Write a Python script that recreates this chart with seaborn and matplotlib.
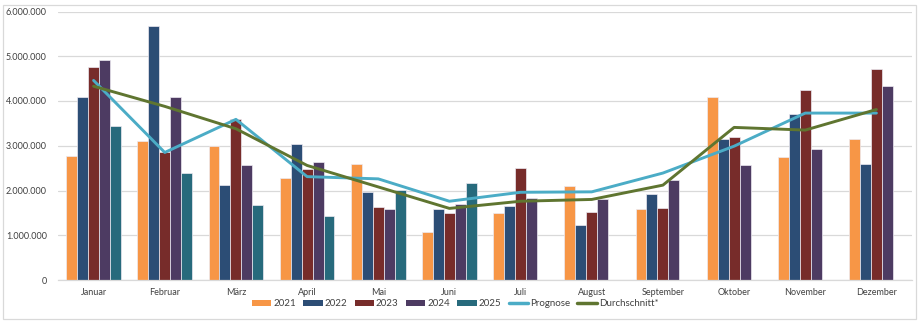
import numpy as np
import pandas as pd
import matplotlib
matplotlib.use("Agg")
import matplotlib.pyplot as plt
from matplotlib.patches import Patch, Rectangle
from matplotlib.lines import Line2D
from matplotlib.ticker import FuncFormatter, MultipleLocator
import seaborn as sns

months = ["Januar", "Februar", "März", "April", "Mai", "Juni", "Juli",
          "August", "September", "Oktober", "November", "Dezember"]
years = ["2021", "2022", "2023", "2024", "2025"]

v2021 = [2770000, 3110000, 3000000, 2270000, 2590000, 1080000, 1500000, 2100000, 1590000, 4090000, 2740000, 3140000]
v2022 = [4100000, 5680000, 2130000, 3050000, 1960000, 1580000, 1660000, 1240000, 1920000, 3160000, 3700000, 2590000]
v2023 = [4760000, 2850000, 3590000, 2490000, 1630000, 1490000, 2500000, 1530000, 1610000, 3190000, 4240000, 4710000]
v2024 = [4920000, 4090000, 2560000, 2640000, 1580000, 1700000, 1840000, 1800000, 2230000, 2580000, 2920000, 4330000]
v2025 = [3450000, 2390000, 1680000, 1430000, 2020000, 2170000, np.nan, np.nan, np.nan, np.nan, np.nan, np.nan]
prognose = [4460000, 2850000, 3590000, 2310000, 2260000, 1760000, 1960000, 1970000, 2390000, 2990000, 3730000, 3730000]
durchschnitt = [4330000, 3880000, 3380000, 2560000, 2080000, 1600000, 1760000, 1800000, 2120000, 3410000, 3350000, 3810000]

bar_colors = ["#F79646", "#2C4D75", "#772C2A", "#4D3B62", "#276A7C"]
prog_color = "#4BACC6"
avg_color = "#5F7530"
text_color = "#404040"
grid_color = "#D9D9D9"

rows = []
for y, vals in zip(years, [v2021, v2022, v2023, v2024, v2025]):
    for m, v in zip(months, vals):
        if not np.isnan(v):
            rows.append({"Monat": m, "Jahr": y, "Wert": v})
bars = pd.DataFrame(rows)
lines = pd.DataFrame({"Monat": months, "Prognose": prognose, "Durchschnitt": durchschnitt})

sns.set_theme(style="white")
plt.rcParams["font.family"] = ["Lato", "DejaVu Sans"]

fig = plt.figure(figsize=(9.19, 3.24), dpi=100)
ax = fig.add_axes([58 / 919, 1 - 280 / 324, (912 - 58) / 919, (280 - 11.5) / 324])

sns.barplot(data=bars, x="Monat", y="Wert", hue="Jahr", order=months,
            hue_order=years, palette=bar_colors, width=0.77, saturation=1,
            edgecolor="#EDEAF2", linewidth=0.5, errorbar=None, legend=False,
            ax=ax, zorder=2)
sns.pointplot(data=lines, x="Monat", y="Prognose", order=months, color=prog_color,
              marker="", linewidth=2.1, errorbar=None, ax=ax, zorder=4)
sns.pointplot(data=lines, x="Monat", y="Durchschnitt", order=months, color=avg_color,
              marker="", linewidth=2.1, errorbar=None, ax=ax, zorder=5)

ax.set_xlim(-0.5, 11.5)
ax.set_ylim(0, 6000000)
ax.yaxis.set_major_locator(MultipleLocator(1000000))
ax.yaxis.set_major_formatter(FuncFormatter(lambda v, p: f"{int(round(v)):,}".replace(",", ".")))
ax.set_xlabel("")
ax.set_ylabel("")
ax.grid(axis="y", color=grid_color, linewidth=0.9, zorder=0)
ax.set_axisbelow(True)
for s in ["top", "right", "left"]:
    ax.spines[s].set_visible(False)
ax.spines["bottom"].set_color(grid_color)
ax.spines["bottom"].set_linewidth(0.9)
ax.tick_params(axis="both", length=0, labelsize=6.5, colors=text_color)
ax.tick_params(axis="y", pad=8)
ax.tick_params(axis="x", pad=6)

handles = [Patch(facecolor=c, edgecolor="none") for c in bar_colors]
handles += [Line2D([], [], color=prog_color, lw=2.5), Line2D([], [], color=avg_color, lw=2.5)]
labels = years + ["Prognose", "Durchschnitt*"]
fig.legend(handles, labels, loc="center", bbox_to_anchor=(455 / 919, 1 - 304 / 324),
           ncol=7, frameon=False, fontsize=7, handlelength=2.0, handleheight=0.6,
           handletextpad=0.2, columnspacing=0.75, labelcolor=text_color)

fig.patches.append(Rectangle((3 / 919, 5 / 324), 913 / 919, 314 / 324,
                             transform=fig.transFigure, fill=False,
                             edgecolor=grid_color, linewidth=0.9))

fig.savefig("out.png", dpi=100)
